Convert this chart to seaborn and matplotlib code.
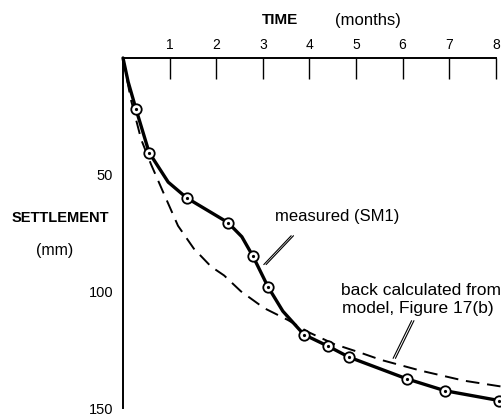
import numpy as np
import pandas as pd
import matplotlib
matplotlib.use("Agg")
import matplotlib.pyplot as plt
import seaborn as sns

# -------------------------
# Data
# -------------------------
# measured settlement (SM1): curve points, markers are flagged
meas_time = [0.0, 0.11, 0.28, 0.56, 0.97, 1.37, 2.25, 2.55, 2.79, 3.11, 3.43, 3.88,
             4.40, 4.85, 6.09, 6.91, 8.07, 8.2]
meas_settle = [0.0, 10.2, 22.0, 40.5, 53.2, 60.0, 70.5, 76.6, 85.0, 98.0, 108.5, 118.5,
               123.5, 128.2, 137.5, 142.6, 146.8, 147.1]
is_marker = [0, 0, 1, 1, 0, 1, 1, 0, 1, 1, 0, 1, 1, 1, 1, 1, 1, 0]

# back calculated from model (dashed)
model_time = [0.0, 0.17, 0.39, 0.60, 0.86, 1.18, 1.52, 1.89, 2.17, 2.53, 3.03, 3.54, 3.97,
              4.53, 5.11, 5.54, 6.39, 7.32, 8.15]
model_settle = [0.0, 17.9, 34.9, 45.5, 57.4, 71.9, 81.7, 89.4, 93.2, 100.0, 107.2, 112.3, 117.4,
                122.6, 126.4, 129.4, 134.0, 138.3, 140.9]

time_ticks = [1, 2, 3, 4, 5, 6, 7, 8]
settle_ticks = [50, 100, 150]

sns.set_style("white")
plt.rcParams["font.family"] = ["Liberation Sans", "DejaVu Sans"]
plt.rcParams["text.color"] = "black"

fig = plt.figure(figsize=(5.02, 4.16), dpi=100)
# 0 mm at y=58 px, 150 mm at y=408 px
ax = fig.add_axes([123 / 502, 8 / 416, 379 / 502, 350 / 416])

meas = pd.DataFrame({"time": meas_time, "settlement": meas_settle, "marker": is_marker})
model = pd.DataFrame({"time": model_time, "settlement": model_settle})

sns.lineplot(data=model, x="time", y="settlement", sort=False, ax=ax, color="black",
             lw=1.4, linestyle=(0, (7, 4)), clip_on=False)
sns.lineplot(data=meas, x="time", y="settlement", sort=False, ax=ax, color="black",
             lw=2.4, clip_on=False)
pts = meas[meas["marker"] == 1]
ax.plot(pts["time"], pts["settlement"], "o", ms=7.5, mfc="white", mec="black", mew=1.3,
        clip_on=False, zorder=5)
ax.plot(pts["time"], pts["settlement"], "o", ms=1.3, color="black", clip_on=False, zorder=6)

ax.set_xlim(0, 379 / 46.6)
ax.set_ylim(150, 0)
ax.set_xlabel("")
ax.set_ylabel("")

# axes on top and left only
for s in ["right", "bottom"]:
    ax.spines[s].set_visible(False)
for s in ["top", "left"]:
    ax.spines[s].set_color("black")
    ax.spines[s].set_linewidth(1.4)
ax.spines["top"].set_bounds(0, 8)
ax.spines["left"].set_bounds(0, 150)

ax.xaxis.tick_top()
ax.set_xticks(time_ticks)
ax.set_yticks(settle_ticks)
ax.tick_params(axis="x", direction="in", length=15, width=1, pad=4, labelsize=10,
               top=True, bottom=False, colors="black")
ax.tick_params(axis="y", direction="in", length=15, width=1, pad=7, labelsize=10.5,
               colors="black")

# labels
fig.text(280 / 502, 1 - 20 / 416, "TIME", ha="center", va="center", fontsize=11, weight="bold")
fig.text(368 / 502, 1 - 20 / 416, "(months)", ha="center", va="center", fontsize=12)
fig.text(60 / 502, 1 - 218 / 416, "SETTLEMENT", ha="center", va="center", fontsize=10.5, weight="bold")
fig.text(55 / 502, 1 - 250 / 416, "(mm)", ha="center", va="center", fontsize=11.5)

# annotations with double leader lines
ax.text(3.26, 68.1, "measured (SM1)", ha="left", va="center", fontsize=12)
for d in (0.0, 0.05):
    ax.annotate("", xy=(2.98 + d, 89.4), xytext=(3.65 + d, 75.3),
                arrowprops=dict(arrowstyle="-", lw=0.8, color="black"))
ax.text(6.4, 99.6, "back calculated from", ha="center", va="center", fontsize=12.5)
ax.text(6.33, 107.2, "model, Figure 17(b)", ha="center", va="center", fontsize=12.5)
for d in (0.0, 0.05):
    ax.annotate("", xy=(5.77 + d, 129.8), xytext=(6.22 + d, 111.5),
                arrowprops=dict(arrowstyle="-", lw=0.8, color="black"))

fig.savefig("out.png", dpi=100)
